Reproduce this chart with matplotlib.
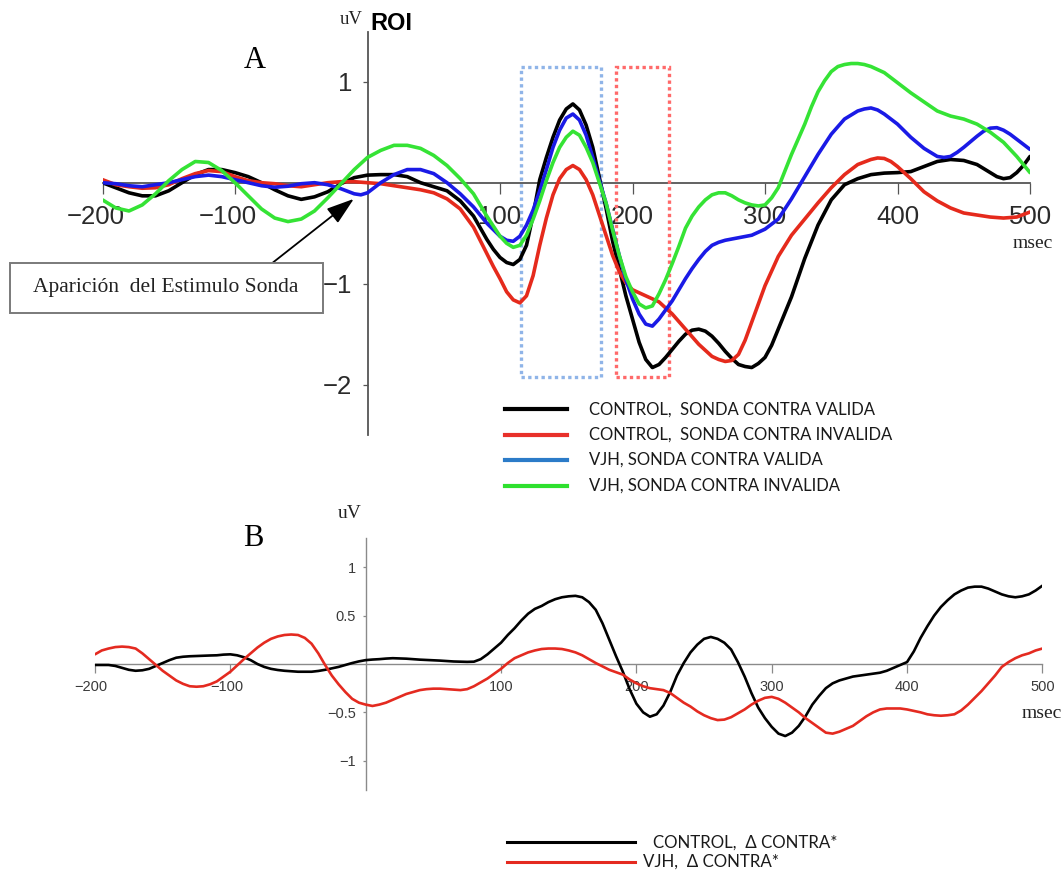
import matplotlib
matplotlib.use('Agg')
import matplotlib.pyplot as plt
from matplotlib.patches import Rectangle
from matplotlib.lines import Line2D
from matplotlib.transforms import ScaledTranslation

W, H, DPI = 1063, 877, 100

# ------------------------------------------------------------------ data: panel A (ROI)
# (readings every 10 ms, plus extra readings at 5 ms where the curves bend sharply; sorted before plotting)
ctrl_valid_t = [-200, -190, -180, -170, -160, -150, -140, -130, -120, -110, -100, -90, -80, -70, -60, -50, -40, -30, -20, -10,
                0, 10, 20, 30, 40, 50, 60, 70, 80, 90, 100, 105, 110, 115, 120, 125, 130, 140, 145, 150, 155, 160, 165, 170,
                175, 180, 185, 190, 200, 205, 210, 215, 220, 230, 240, 250, 260, 270, 280, 290, 300, 310, 320, 330, 340,
                350, 360, 370, 380, 390, 400, 410, 420, 430, 440, 450, 460, 470, 480, 490, 500,
                195, 225, 235, 245, 255, 265, 275, 285, 295, 305, 135, 95, 475, 485, 495]
ctrl_valid_uv = [0.0, -0.05, -0.10, -0.13, -0.13, -0.08, 0.0, 0.08, 0.13, 0.13, 0.10, 0.06, 0.0, -0.07, -0.13, -0.165, -0.14,
                 -0.09, -0.01, 0.05, 0.075, 0.08, 0.08, 0.06, 0.0, -0.04, -0.08, -0.18, -0.33, -0.56, -0.74, -0.79, -0.81,
                 -0.76, -0.62, -0.32, 0.03, 0.45, 0.62, 0.73, 0.78, 0.72, 0.57, 0.35, 0.05, -0.25, -0.58, -0.85, -1.35,
                 -1.58, -1.75, -1.83, -1.80, -1.65, -1.5, -1.45, -1.52, -1.67, -1.8, -1.83, -1.73, -1.45, -1.13, -0.75,
                 -0.42, -0.17, -0.02, 0.04, 0.08, 0.095, 0.1, 0.11, 0.16, 0.21, 0.23, 0.22, 0.18, 0.1, 0.04, 0.1, 0.26,
                 -1.12, -1.73, -1.57, -1.46, -1.47, -1.59, -1.74, -1.82, -1.79, -1.61, 0.25, -0.66, 0.06, 0.05, 0.17]

ctrl_invalid_t = [-200, -190, -180, -170, -160, -150, -140, -130, -120, -110, -100, -90, -80, -70, -60, -50, -40, -30, -20,
                  -10, 0, 10, 20, 30, 40, 50, 60, 70, 80, 90, 100, 105, 110, 115, 120, 125, 130, 135, 140, 145, 150, 155,
                  160, 165, 170, 180, 190, 200, 210, 220, 230, 240, 250, 260, 270, 280, 290, 300, 310, 320, 330, 340, 350,
                  360, 370, 380, 390, 400, 410, 420, 430, 440, 450, 460, 470, 480, 490, 500,
                  175, 185, 195, 205, 265, 275, 285, 295, 385, 395, 405, 95]
ctrl_invalid_uv = [0.03, -0.02, -0.04, -0.055, -0.05, -0.02, 0.04, 0.09, 0.12, 0.11, 0.06, 0.02, 0.0, -0.01, -0.03, -0.04,
                   -0.02, 0.0, 0.01, 0.01, 0.0, -0.01, -0.03, -0.05, -0.07, -0.1, -0.16, -0.26, -0.44, -0.7, -0.95, -1.08,
                   -1.16, -1.19, -1.12, -0.92, -0.62, -0.35, -0.12, 0.04, 0.13, 0.17, 0.13, 0.03, -0.12, -0.52, -0.88,
                   -1.06, -1.12, -1.18, -1.3, -1.45, -1.6, -1.72, -1.77, -1.70, -1.38, -1.02, -0.73, -0.52, -0.36, -0.2,
                   -0.05, 0.08, 0.18, 0.23, 0.24, 0.16, 0.04, -0.09, -0.18, -0.25, -0.3, -0.32, -0.34, -0.35, -0.34, -0.29,
                   -0.32, -0.72, -0.99, -1.09, -1.75, -1.76, -1.56, -1.2, 0.245, 0.21, 0.1, -0.83]

vjh_valid_t = [-200, -190, -180, -170, -160, -150, -140, -130, -120, -110, -100, -90, -80, -70, -60, -50, -40, -30, -20, -10,
               -5, 0, 10, 20, 30, 40, 50, 60, 70, 80, 90, 100, 105, 110, 115, 120, 125, 130, 135, 140, 145, 150, 155, 160,
               165, 170, 175, 180, 190, 200, 205, 210, 215, 220, 230, 240, 250, 260, 270, 280, 290, 300, 310, 320, 330,
               340, 350, 360, 370, 380, 390, 400, 410, 420, 430, 440, 450, 460, 470, 480, 490, 500,
               185, 195, 225, 235, 245, 255, 265, 375, 385, 395, 435, 445, 465, 475, 485]
vjh_valid_uv = [0.0, -0.01, -0.03, -0.04, -0.02, 0.0, 0.03, 0.06, 0.075, 0.06, 0.03, 0.0, -0.03, -0.045, -0.035, -0.01, 0.0,
                -0.02, -0.06, -0.11, -0.12, -0.1, 0.0, 0.08, 0.13, 0.13, 0.09, 0.0, -0.11, -0.24, -0.40, -0.53, -0.57,
                -0.58, -0.53, -0.42, -0.27, -0.08, 0.13, 0.35, 0.52, 0.64, 0.68, 0.62, 0.47, 0.25, 0.02, -0.2, -0.72,
                -1.15, -1.3, -1.4, -1.42, -1.35, -1.17, -0.95, -0.76, -0.62, -0.57, -0.545, -0.52, -0.46, -0.36, -0.16,
                0.06, 0.28, 0.48, 0.63, 0.71, 0.74, 0.68, 0.58, 0.45, 0.34, 0.26, 0.26, 0.35, 0.46, 0.54, 0.52, 0.43, 0.33,
                -0.46, -0.96, -1.26, -1.06, -0.85, -0.68, -0.59, 0.73, 0.72, 0.63, 0.25, 0.3, 0.51, 0.545, 0.48]

vjh_invalid_t = [-200, -190, -180, -170, -160, -150, -140, -130, -120, -110, -100, -90, -80, -70, -60, -50, -40, -30, -20,
                 -10, 0, 10, 20, 30, 40, 50, 60, 70, 80, 90, 100, 105, 110, 115, 120, 125, 130, 135, 140, 145, 150, 155,
                 160, 165, 170, 175, 180, 190, 200, 205, 210, 215, 220, 230, 240, 250, 260, 270, 280, 290, 300, 310, 320,
                 330, 340, 350, 360, 370, 380, 390, 400, 410, 420, 430, 440, 450, 460, 470, 480, 490, 500,
                 185, 195, 225, 235, 245, 255, 265, 275, 285, 295, 305, 335, 345, 355, 365, 375, 385]
vjh_invalid_uv = [-0.17, -0.25, -0.28, -0.22, -0.11, 0.02, 0.13, 0.21, 0.2, 0.12, 0.0, -0.13, -0.26, -0.35, -0.385, -0.36,
                  -0.28, -0.15, -0.01, 0.13, 0.25, 0.32, 0.37, 0.37, 0.34, 0.27, 0.17, 0.04, -0.11, -0.33, -0.53, -0.6,
                  -0.64, -0.62, -0.52, -0.36, -0.18, 0.02, 0.2, 0.35, 0.45, 0.51, 0.47, 0.35, 0.2, 0.0, -0.2, -0.72, -1.08,
                  -1.2, -1.24, -1.22, -1.1, -0.8, -0.45, -0.24, -0.12, -0.1, -0.17, -0.22, -0.22, -0.05, 0.28, 0.58, 0.9,
                  1.1, 1.17, 1.18, 1.15, 1.09, 0.99, 0.89, 0.8, 0.71, 0.66, 0.63, 0.58, 0.5, 0.4, 0.26, 0.1,
                  -0.47, -0.93, -0.96, -0.63, -0.33, -0.17, -0.1, -0.13, -0.2, -0.23, -0.15, 0.75, 1.01, 1.15, 1.18,
                  1.17, 1.12]

labels_a = ["CONTROL,  SONDA CONTRA VALIDA", "CONTROL,  SONDA CONTRA INVALIDA",
            "VJH, SONDA CONTRA VALIDA", "VJH, SONDA CONTRA INVALIDA"]

# ------------------------------------------------------------------ data: panel B (difference waves), every 5 ms
times_b = list(range(-200, 505, 5))
ctrl_delta_uv = [
    -0.01, -0.01, -0.01, -0.02, -0.04, -0.06, -0.07, -0.065, -0.05, -0.02,          # -200 .. -155
    0.01, 0.04, 0.065, 0.075, 0.08, 0.083, 0.086, 0.088, 0.09, 0.097,              # -150 .. -105
    0.1, 0.09, 0.07, 0.04, 0.0, -0.03, -0.05, -0.062, -0.07, -0.075,               # -100 .. -55
    -0.08, -0.08, -0.08, -0.072, -0.06, -0.045, -0.03, -0.01, 0.01, 0.027,         # -50 .. -5
    0.04, 0.046, 0.05, 0.056, 0.06, 0.058, 0.055, 0.05, 0.045, 0.042,              # 0 .. 45
    0.04, 0.035, 0.03, 0.026, 0.024, 0.022, 0.024, 0.05, 0.1, 0.16,                # 50 .. 95
    0.22, 0.3, 0.37, 0.45, 0.52, 0.57, 0.6, 0.64, 0.67, 0.69,                      # 100 .. 145
    0.7, 0.705, 0.69, 0.64, 0.56, 0.42, 0.25, 0.08, -0.08, -0.26,                  # 150 .. 195
    -0.41, -0.5, -0.545, -0.52, -0.43, -0.29, -0.12, 0.01, 0.12, 0.2,              # 200 .. 245
    0.26, 0.28, 0.26, 0.22, 0.15, 0.02, -0.13, -0.3, -0.45, -0.56,                 # 250 .. 295
    -0.65, -0.72, -0.745, -0.71, -0.64, -0.54, -0.42, -0.33, -0.25, -0.2,          # 300 .. 345
    -0.17, -0.15, -0.13, -0.12, -0.11, -0.1, -0.09, -0.07, -0.04, -0.01,           # 350 .. 395
    0.02, 0.13, 0.27, 0.39, 0.5, 0.59, 0.66, 0.72, 0.76, 0.79,                     # 400 .. 445
    0.8, 0.8, 0.78, 0.75, 0.72, 0.7, 0.69, 0.7, 0.72, 0.76,                        # 450 .. 495
    0.81]                                                                          # 500
vjh_delta_uv = [
    0.1, 0.14, 0.16, 0.175, 0.18, 0.175, 0.16, 0.11, 0.05, -0.01,                  # -200 .. -155
    -0.07, -0.12, -0.17, -0.205, -0.23, -0.235, -0.23, -0.21, -0.18, -0.13,        # -150 .. -105
    -0.08, -0.015, 0.05, 0.11, 0.17, 0.22, 0.26, 0.285, 0.3, 0.305,                # -100 .. -55
    0.3, 0.27, 0.21, 0.11, -0.01, -0.12, -0.21, -0.29, -0.36, -0.4,                # -50 .. -5
    -0.42, -0.434, -0.42, -0.4, -0.37, -0.34, -0.31, -0.29, -0.27, -0.26,          # 0 .. 45
    -0.255, -0.255, -0.26, -0.265, -0.27, -0.26, -0.23, -0.19, -0.15, -0.1,        # 50 .. 95
    -0.05, 0.01, 0.06, 0.09, 0.12, 0.14, 0.155, 0.16, 0.16, 0.155,                 # 100 .. 145
    0.14, 0.12, 0.09, 0.05, 0.01, -0.025, -0.06, -0.085, -0.11, -0.16,             # 150 .. 195
    -0.2, -0.23, -0.25, -0.26, -0.27, -0.3, -0.35, -0.4, -0.44, -0.49,             # 200 .. 245
    -0.53, -0.56, -0.58, -0.575, -0.55, -0.51, -0.47, -0.42, -0.38, -0.35,         # 250 .. 295
    -0.34, -0.36, -0.4, -0.45, -0.5, -0.56, -0.61, -0.66, -0.71, -0.72,            # 300 .. 345
    -0.7, -0.67, -0.64, -0.59, -0.54, -0.5, -0.47, -0.46, -0.46, -0.46,            # 350 .. 395
    -0.47, -0.485, -0.5, -0.52, -0.53, -0.535, -0.53, -0.52, -0.48, -0.42,         # 400 .. 445
    -0.35, -0.28, -0.2, -0.12, -0.03, 0.02, 0.06, 0.09, 0.11, 0.14,                # 450 .. 495
    0.16]                                                                          # 500

labels_b = ["CONTROL,  \u0394 CONTRA*", "VJH,  \u0394 CONTRA*"]

xticks = [-200, -100, 100, 200, 300, 400, 500]
xticklabels = ["\u2212200", "\u2212100", "100", "200", "300", "400", "500"]
yticks_a = [1, -1, -2]
yticklabels_a = ["1", "\u22121", "\u22122"]
yticks_b = [1, 0.5, -0.5, -1]
yticklabels_b = ["1", "0.5", "\u22120.5", "\u22121"]

# ------------------------------------------------------------------ figure
fig = plt.figure(figsize=(W / DPI, H / DPI), dpi=DPI)
fig.patch.set_facecolor('white')


def fx(px):
    return px / W


def fy(py):
    return 1 - py / H


SANS = ['Liberation Sans', 'DejaVu Sans']
SERIF = ['Liberation Serif', 'DejaVu Serif']


def setup_axis(ax, yticks, yticklabels, tick_fs, tcolor, spine_color, spine_lw,
               xtl, xpad, ytl, ypad, neg_shift_px):
    for s in ['top', 'right']:
        ax.spines[s].set_visible(False)
    ax.spines['left'].set_position(('data', 0))
    ax.spines['bottom'].set_position(('data', 0))
    for s in ['left', 'bottom']:
        ax.spines[s].set_color(spine_color)
        ax.spines[s].set_linewidth(spine_lw)
        ax.spines[s].set_zorder(1)
    ax.set_xticks(xticks, xticklabels)
    ax.set_yticks(yticks, yticklabels)
    ax.tick_params(axis='x', direction='out', length=xtl, width=0.9, color=spine_color, pad=xpad,
                   labelsize=tick_fs, labelcolor=tcolor)
    ax.tick_params(axis='y', direction='out', length=ytl, width=0.9, color=spine_color, pad=ypad,
                   labelsize=tick_fs, labelcolor=tcolor)
    for lab in ax.get_xticklabels() + ax.get_yticklabels():
        lab.set_fontfamily(SANS)
    off = ScaledTranslation(-neg_shift_px / DPI, 0, fig.dpi_scale_trans)
    for lab in ax.get_xticklabels():
        if lab.get_text().startswith('\u2212'):
            lab.set_transform(lab.get_transform() + off)
    ax.set_facecolor('none')


def sorted_series(t, v):
    pairs = sorted(zip(t, v))
    return [p[0] for p in pairs], [p[1] for p in pairs]


# ---------------- panel A
axA = fig.add_axes([fx(102.5), fy(435), fx(1030) - fx(102.5), (435 - 31.7) / H])
axA.set_xlim(-200, 500)
axA.set_ylim(-(435 - 182.7) / 101, (182.7 - 31.7) / 101)
setup_axis(axA, yticks_a, yticklabels_a, 18.5, '#2a2a2a', '#555555', 1.3,
           7.7, 8.5, 3.5, 7.5, 7)

colors_a = ['#000000', '#e52a1c', '#1a1ae6', '#35e335']
series_a = [(ctrl_valid_t, ctrl_valid_uv), (ctrl_invalid_t, ctrl_invalid_uv),
            (vjh_valid_t, vjh_valid_uv), (vjh_invalid_t, vjh_invalid_uv)]
for (tt, vv), c in zip(series_a, colors_a):
    ts, vs = sorted_series(tt, vv)
    axA.plot(ts, vs, color=c, lw=2.6, solid_joinstyle='round', solid_capstyle='round', zorder=3)

# dotted windows
box_y0, box_y1 = -(376.7 - 182.7) / 101, (182.7 - 67) / 101
axA.add_patch(Rectangle((115.8, box_y0), 176 - 115.8, box_y1 - box_y0, fill=False,
                        ec='#8fb4e8', lw=2.4, ls=(0, (1, 1)), zorder=2))
axA.add_patch(Rectangle((187.3, box_y0), 227.6 - 187.3, box_y1 - box_y0, fill=False,
                        ec='#ff6a6a', lw=2.4, ls=(0, (1, 1)), zorder=2))

# annotation box + arrow
fig.patches.append(Rectangle((fx(10), fy(312.7)), fx(322.7) - fx(10), (312.7 - 262.7) / H,
                             transform=fig.transFigure, fill=True, fc='white', ec='#7a7a7a', lw=1.4))
fig.text(fx(166), fy(287.5), "Aparici\u00f3n  del Estimulo Sonda", ha='center', va='center',
         fontsize=15.5, family=SERIF, color='#222222')
axA.annotate('', xy=(-10.3, -0.16), xycoords='data',
             xytext=(fx(272.7), fy(262.7)), textcoords='figure fraction',
             arrowprops=dict(arrowstyle='-|>,head_length=0.85,head_width=0.28', mutation_scale=20,
                             color='black', lw=1.3, shrinkA=0, shrinkB=0), zorder=5)

fig.text(fx(255), fy(60), "A", ha='center', va='center', fontsize=22, family=SERIF)
fig.text(fx(351), fy(19), "uV", ha='center', va='center', fontsize=13.5, family=SERIF, color='#222222')
fig.text(fx(391.5), fy(23.5), "ROI", ha='center', va='center', fontsize=17, family=SANS, fontweight='bold')
fig.text(fx(1033), fy(244), "msec", ha='center', va='center', fontsize=14, family=SERIF, color='#222222')

# legend A (drawn in figure coordinates)
leg_colors_a = ['#000000', '#e8302a', '#2b7bc8', '#2ee02e']
rows_a = [409.3, 435, 460, 486]
texts_a = []
for lab, c, ry in zip(labels_a, leg_colors_a, rows_a):
    fig.lines.append(Line2D([fx(505), fx(567)], [fy(ry), fy(ry)], transform=fig.transFigure,
                            color=c, lw=3.0))
    texts_a.append(fig.text(fx(589), fy(ry), lab, ha='left', va='center', fontsize=14,
                            family=['Lato', 'DejaVu Sans'], color='#1a1a1a'))

# ---------------- panel B
axB = fig.add_axes([fx(95), fy(790), fx(1042.4) - fx(95), (790 - 538) / H])
axB.set_xlim(-200, 500)
axB.set_ylim(-(790 - 664) / 96.7, (664 - 538) / 96.7)
setup_axis(axB, yticks_b, yticklabels_b, 10.5, '#3a3a3a', '#8a8a8a', 1.0,
           6.5, 5.0, 2.5, 4.5, 4)

colors_b = ['#000000', '#e42a20']
for vv, c in zip([ctrl_delta_uv, vjh_delta_uv], colors_b):
    axB.plot(times_b, vv, color=c, lw=1.9, solid_joinstyle='round', solid_capstyle='round', zorder=3)

fig.text(fx(253), fy(538), "B", ha='center', va='center', fontsize=22, family=SERIF)
fig.text(fx(350), fy(513), "uV", ha='center', va='center', fontsize=14, family=SERIF, color='#222222')
fig.text(fx(1042), fy(714), "msec", ha='center', va='center', fontsize=14, family=SERIF, color='#222222')

# legend B
rows_b = [842.3, 861.7]
starts_b = [652.7, 643]
texts_b = []
for lab, c, ry, sx in zip(labels_b, colors_b, rows_b, starts_b):
    fig.lines.append(Line2D([fx(506.7), fx(635)], [fy(ry), fy(ry)], transform=fig.transFigure,
                            color=c, lw=2.2))
    texts_b.append(fig.text(fx(sx), fy(ry), lab, ha='left', va='center', fontsize=13,
                            family=['Lato', 'DejaVu Sans'], color='#1a1a1a'))

# fit legend font sizes to the reference text widths
fig.canvas.draw()
r = fig.canvas.get_renderer()
w0 = texts_a[0].get_window_extent(r).width
fsA = 14 * 287 / w0
for t in texts_a:
    t.set_fontsize(fsA)
w1 = texts_b[0].get_window_extent(r).width
fsB = 13 * 185 / w1
for t in texts_b:
    t.set_fontsize(fsB)

fig.savefig('out.png', dpi=DPI, facecolor='white')
